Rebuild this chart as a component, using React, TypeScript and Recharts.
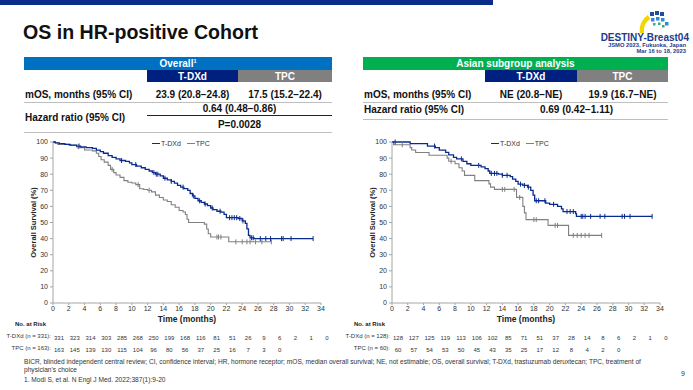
import { LineChart, Line, XAxis, YAxis } from 'recharts';

const months = [0, 2, 4, 6, 8, 10, 12, 14, 16, 18, 20, 22, 24, 26, 28, 30, 32, 34];
const survivalTicks = [0, 10, 20, 30, 40, 50, 60, 70, 80, 90, 100];

// Overall HR-positive cohort
const overallTdxdTime = [0, 0.3, 0.8, 1.5, 2.2, 3, 3.5, 4.2, 5, 5.5, 6, 6.4, 7, 7.5, 8, 8.5, 9.2, 9.7, 10, 10.6, 11.2, 11.7, 12.2, 12.6, 13, 13.6, 14, 14.5, 15, 15.4, 15.8, 16.2, 16.6, 17.1, 17.4, 17.7, 18, 18.4, 18.8, 19.2, 19.6, 20, 20.3, 20.8, 21.3, 21.7, 22, 23.5, 24, 24.4, 24.6, 24.8, 25, 25.5];
const overallTdxdOS = [100, 99.5, 99, 98.5, 98, 97.5, 97, 96.5, 96, 95, 94, 93, 91.5, 90.5, 89.5, 88.5, 88, 87, 86, 85, 84, 83, 82, 81, 80, 79, 77.5, 76.5, 75.5, 74.5, 73, 72, 71, 70, 68, 66.5, 65, 63.5, 62.5, 61.5, 60.5, 59, 58, 57, 56.5, 55, 53, 52.5, 51, 49.5, 46, 42, 40.5, 40];
const overallTdxdCensor = [3.3, 8.7, 10.5, 12.8, 13.1, 13.3, 14.2, 15, 16.5, 17.8, 18.6, 19.3, 20.2, 21.2, 22.4, 22.7, 23, 23.3, 23.7, 24.1, 25.2, 25.4, 26.3, 27, 27.6, 29, 29.2, 30.2, 33];
const overallTpcTime = [0, 0.2, 0.6, 2, 3, 3.5, 4, 5, 5.5, 5.8, 6.1, 6.5, 7, 7.3, 7.7, 8, 8.5, 9, 9.5, 10, 10.5, 11, 11.5, 12, 12.5, 13, 13.5, 14, 14.5, 15, 15.5, 16, 16.5, 16.8, 17, 17.2, 19.2, 19.5, 19.7, 20, 22.3];
const overallTpcOS = [100, 99.5, 98.5, 98, 97, 96.5, 95, 94.5, 93, 91, 89, 87.5, 85.5, 83, 81, 79.5, 78, 76, 75, 74.5, 73.5, 71, 70.5, 70, 69, 67, 65.5, 64, 63, 61, 59.5, 57.5, 56.5, 55, 52, 50, 49, 46, 43, 41, 38];
const overallTpcCensor = [3.2, 7.5, 10.8, 12.2, 20.8, 21, 21.3, 23.2, 24, 24.6, 25, 25.7, 26.5, 27.7];
const overallTdxdRisk = [331, 323, 314, 303, 285, 268, 250, 199, 168, 116, 81, 51, 26, 9, 6, 2, 1, 0];
const overallTpcRisk = [163, 145, 139, 130, 115, 104, 96, 80, 56, 37, 25, 16, 7, 3, 0];

// Asian subgroup
const asianTdxdTime = [0, 2.3, 4.5, 5.5, 6, 6.8, 7.2, 7.8, 8.2, 9, 9.5, 10, 11.3, 11.8, 12.2, 12.4, 13.5, 14, 15, 15.3, 15.7, 16, 16.6, 17.2, 17.6, 17.9, 18.1, 19.5, 20, 21, 21.5, 21.7, 23.3, 23.4];
const asianTdxdOS = [100, 99, 97.5, 96.5, 95, 93.5, 92, 90.5, 89.5, 88, 86.5, 85.5, 84.5, 83.5, 82, 80.5, 80, 79.3, 78.5, 77, 75.5, 73.8, 73, 72, 70, 67, 63.5, 62, 61.3, 60, 58.5, 56.8, 55.5, 53.8];
const asianTdxdCensor = [0.4, 5.4, 8.8, 11, 12.6, 13, 13.3, 14, 14.6, 16.3, 16.8, 17.3, 18.3, 18.6, 19.4, 20.5, 22.2, 22.6, 23, 24, 24.2, 24.5, 25.2, 26.4, 27, 29.2, 29.5, 30.2, 33];
const asianTpcTime = [0, 0.2, 2.3, 2.5, 3, 4.7, 7, 7.2, 8, 8.5, 8.9, 9.2, 10.5, 12.3, 12.5, 13, 15.8, 16.6, 16.8, 17, 19.8, 22.4];
const asianTpcOS = [100, 98.3, 96.5, 95, 93.5, 91.8, 90, 88, 86.5, 84, 82, 79.3, 76, 74, 72, 70.6, 65.6, 60, 56, 51.8, 48.2, 42];
const asianTpcCensor = [1.3, 7.5, 14, 14.3, 15.5, 16.2, 18, 18.3, 20.7, 21, 23, 23.5, 24, 24.5, 25, 26.6];
const asianTdxdRisk = [128, 127, 125, 119, 113, 106, 102, 85, 71, 51, 37, 28, 14, 8, 6, 2, 1, 0];
const asianTpcRisk = [60, 57, 54, 53, 50, 45, 43, 35, 25, 17, 12, 8, 4, 2, 0];

const NAVY = '#0A2B8E';
const GREY = '#808080';
const FONT = "'Liberation Sans', Arial, sans-serif";

type Pt = { t: number; s: number; c: boolean };

function buildCurve(time: number[], os: number[], censor: number[]): Pt[] {
  const pts: Pt[] = time.map((t, i) => ({ t, s: os[i], c: false }));
  censor.forEach((ct) => {
    let s = os[0];
    time.forEach((t, i) => {
      if (t <= ct) s = os[i];
    });
    pts.push({ t: ct, s, c: true });
  });
  return pts.sort((a, b) => a.t - b.t);
}

const censorDot = (color: string) => (p: any) =>
  p.payload && p.payload.c ? (
    <line key={'c' + p.index} x1={p.cx} x2={p.cx} y1={p.cy - 2.5} y2={p.cy + 2.5} stroke={color} strokeWidth={1} />
  ) : (
    <g key={'n' + p.index} />
  );

const riskTick = (risk: number[]) => (p: any) => {
  const i = months.indexOf(p.payload.value);
  const label = i >= 0 && i < risk.length ? String(risk[i]) : '';
  return (
    <text key={'r' + p.index} x={p.x + 6} y={p.y} dy="0.71em" textAnchor="middle" fontSize={6} fill="#333" fontFamily={FONT}>
      {label}
    </text>
  );
};

interface KMProps {
  left: number;
  tdxd: Pt[];
  tpc: Pt[];
  tdxdRisk: number[];
  tpcRisk: number[];
  tdxdLabel: string;
  tpcLabel: string;
}

function KMChart({ left, tdxd, tpc, tdxdRisk, tpcRisk, tdxdLabel, tpcLabel }: KMProps) {
  const axisTick = { fontSize: 7, fill: '#333', fontFamily: FONT };
  return (
    <>
      <div style={{ position: 'absolute', left, top: 135 }}>
        <LineChart width={345} height={225} margin={{ top: 7, right: 24, bottom: 3, left: 13 }}>
          <XAxis
            xAxisId={0}
            type="number"
            dataKey="t"
            domain={[0, 34]}
            ticks={months}
            interval={0}
            allowDataOverflow
            height={30}
            tickSize={2}
            tickMargin={1}
            stroke="#A6A6A6"
            tick={axisTick}
            label={{ value: 'Time (months)', position: 'insideTop', offset: 13, style: { fontSize: 8.5, fontWeight: 700, fill: '#222', fontFamily: FONT } }}
          />
          <XAxis xAxisId={1} type="number" dataKey="t" domain={[0, 34]} ticks={months} interval={0} allowDataOverflow height={12} axisLine={false} tickLine={false} tickSize={0} tickMargin={3} tick={riskTick(tdxdRisk)} />
          <XAxis xAxisId={2} type="number" dataKey="t" domain={[0, 34]} ticks={months} interval={0} allowDataOverflow height={12} axisLine={false} tickLine={false} tickSize={0} tickMargin={3} tick={riskTick(tpcRisk)} />
          <YAxis
            type="number"
            domain={[0, 100]}
            ticks={survivalTicks}
            interval={0}
            width={40}
            tickSize={3}
            tickMargin={2}
            stroke="#A6A6A6"
            tick={axisTick}
            label={{ value: 'Overall Survival (%)', angle: -90, position: 'insideLeft', offset: 20, style: { textAnchor: 'middle', fontSize: 7.5, fontWeight: 700, fill: '#222', fontFamily: FONT } }}
          />
          {/* transparent copies so the at-risk axes share the time domain */}
          <Line xAxisId={1} data={tdxd} dataKey="s" stroke="none" dot={false} activeDot={false} legendType="none" isAnimationActive={false} />
          <Line xAxisId={2} data={tpc} dataKey="s" stroke="none" dot={false} activeDot={false} legendType="none" isAnimationActive={false} />
          <Line xAxisId={0} data={tpc} dataKey="s" type="stepAfter" stroke={GREY} strokeWidth={1.1} dot={censorDot(GREY)} activeDot={false} isAnimationActive={false} />
          <Line xAxisId={0} data={tdxd} dataKey="s" type="stepAfter" stroke={NAVY} strokeWidth={1.3} dot={censorDot(NAVY)} activeDot={false} isAnimationActive={false} />
        </LineChart>
      </div>
      <div style={{ position: 'absolute', left: left + 152, top: 140, display: 'flex', alignItems: 'center', fontSize: 7, color: '#333' }}>
        <span style={{ display: 'inline-block', width: 8, height: 1.3, background: NAVY, marginRight: 1 }} />
        <span style={{ marginRight: 6 }}>T-DXd</span>
        <span style={{ display: 'inline-block', width: 8, height: 1.3, background: GREY, marginRight: 1 }} />
        <span>TPC</span>
      </div>
      <div style={{ position: 'absolute', left: left + 15, top: 321, fontSize: 6, fontWeight: 700, color: '#222' }}>No. at Risk</div>
      <div style={{ position: 'absolute', left: left, width: 51, top: 333, fontSize: 6, color: '#333', textAlign: 'right', whiteSpace: 'nowrap' }}>{tdxdLabel}</div>
      <div style={{ position: 'absolute', left: left, width: 51, top: 345, fontSize: 6, color: '#333', textAlign: 'right', whiteSpace: 'nowrap' }}>{tpcLabel}</div>
    </>
  );
}

const cell = (l: number, t: number, w: number, h: number, bg: string, text: any) => (
  <div style={{ position: 'absolute', left: l, top: t, width: w, height: h, background: bg, color: '#fff', fontWeight: 700, fontSize: 10, display: 'flex', alignItems: 'center', justifyContent: 'center' }}>{text}</div>
);

const txt = (l: number, cy: number, w: number, text: string, align: 'left' | 'center' = 'left') => (
  <div style={{ position: 'absolute', left: l, top: cy - 6, width: w, height: 12, lineHeight: '12px', fontSize: 10, fontWeight: 700, color: '#111', textAlign: align, whiteSpace: 'nowrap' }}>{text}</div>
);

const hline = (l: number, t: number, w: number, color: string) => (
  <div style={{ position: 'absolute', left: l, top: t, width: w, height: 1, background: color }} />
);

export default function App() {
  const overallTdxd = buildCurve(overallTdxdTime, overallTdxdOS, overallTdxdCensor);
  const overallTpc = buildCurve(overallTpcTime, overallTpcOS, overallTpcCensor);
  const asianTdxd = buildCurve(asianTdxdTime, asianTdxdOS, asianTdxdCensor);
  const asianTpc = buildCurve(asianTpcTime, asianTpcOS, asianTpcCensor);

  return (
    <div style={{ position: 'absolute', left: 0, top: 0, width: 693, height: 390, background: '#fff', fontFamily: FONT, overflow: 'hidden' }}>
      <div style={{ position: 'absolute', left: 0, top: 0, width: 493, height: 5, background: '#0B2D8A' }} />
      <div style={{ position: 'absolute', left: 23, top: 20, fontSize: 19.6, fontWeight: 700, color: '#111', lineHeight: '24px' }}>OS in HR-positive Cohort</div>

      <svg style={{ position: 'absolute', left: 638, top: 10 }} width={32} height={24} viewBox="0 0 32 24">
        <path d="M4 23 A16 16 0 0 1 11 7" stroke="#F2D600" strokeWidth={4.5} fill="none" />
        <rect x={12} y={2} width={4} height={4} fill="#1F4E9C" />
        <rect x={17} y={1} width={4} height={4} fill="#1F4E9C" />
        <rect x={22} y={2} width={4} height={4} fill="#1F4E9C" />
        <rect x={13} y={8} width={3.5} height={3.5} fill="#2E8BD8" />
        <rect x={18} y={7} width={3.5} height={3.5} fill="#2E8BD8" />
        <rect x={23} y={8} width={3.5} height={3.5} fill="#2E8BD8" />
        <rect x={27} y={12} width={3.5} height={3.5} fill="#2E8BD8" />
        <rect x={15} y={13} width={2.5} height={2.5} fill="#3BAA6E" />
        <rect x={20} y={12.5} width={2.5} height={2.5} fill="#3BAA6E" />
        <rect x={24} y={15} width={2.5} height={2.5} fill="#3BAA6E" />
      </svg>
      <div style={{ position: 'absolute', right: 4, top: 32, fontSize: 10, fontWeight: 700, color: '#1F3A8C', textAlign: 'right' }}>DESTINY-Breast04</div>
      <div style={{ position: 'absolute', right: 7, top: 42, fontSize: 5.8, fontWeight: 700, color: '#1F3A8C', textAlign: 'right', lineHeight: '6px' }}>
        JSMO 2023, Fukuoka, Japan
        <br />
        Mar 16 to 18, 2023
      </div>

      {/* Overall table */}
      {cell(24, 57, 308, 13, '#0070C0', <span>Overall<sup style={{ fontSize: 5.5 }}>1</sup></span>)}
      {cell(147, 70, 91, 12, '#002080', 'T-DXd')}
      {cell(238, 70, 94, 12, GREY, 'TPC')}
      {txt(25, 95, 120, 'mOS, months (95% CI)')}
      {txt(147, 95, 91, '23.9 (20.8−24.8)', 'center')}
      {txt(238, 95, 94, '17.5 (15.2−22.4)', 'center')}
      {hline(24, 102, 308, '#BFBFBF')}
      {txt(25, 118, 120, 'Hazard ratio (95% CI)')}
      {txt(147, 109, 185, '0.64 (0.48−0.86)', 'center')}
      {hline(147, 115, 185, '#222')}
      {txt(147, 125, 185, 'P=0.0028', 'center')}
      {hline(24, 132, 308, '#BFBFBF')}

      {/* Asian table */}
      {cell(363, 57, 305, 13, '#00B050', 'Asian subgroup analysis')}
      {cell(485, 70, 92, 12, '#002080', 'T-DXd')}
      {cell(577, 70, 91, 12, GREY, 'TPC')}
      {txt(364, 95, 120, 'mOS, months (95% CI)')}
      {txt(485, 95, 92, 'NE (20.8−NE)', 'center')}
      {txt(577, 95, 91, '19.9 (16.7−NE)', 'center')}
      {hline(363, 102, 305, '#BFBFBF')}
      {txt(364, 110, 120, 'Hazard ratio (95% CI)')}
      {txt(485, 110, 183, '0.69 (0.42−1.11)', 'center')}
      {hline(363, 119, 305, '#BFBFBF')}

      <KMChart left={0} tdxd={overallTdxd} tpc={overallTpc} tdxdRisk={overallTdxdRisk} tpcRisk={overallTpcRisk} tdxdLabel="T-DXd (n = 331):" tpcLabel="TPC (n = 163):" />
      <KMChart left={339} tdxd={asianTdxd} tpc={asianTpc} tdxdRisk={asianTdxdRisk} tpcRisk={asianTpcRisk} tdxdLabel="T-DXd (n = 128):" tpcLabel="TPC (n = 60):" />

      <div style={{ position: 'absolute', left: 24, top: 358, width: 640, fontSize: 6.6, color: '#333', lineHeight: '8px' }}>
        BICR, blinded independent central review; CI, confidence interval; HR, hormone receptor; mOS, median overall survival; NE, not estimable; OS, overall survival; T-DXd, trastuzumab deruxtecan; TPC, treatment of physician's choice
      </div>
      <div style={{ position: 'absolute', left: 24, top: 376, fontSize: 6.6, color: '#333' }}>1. Modi S, et al. N Engl J Med. 2022;387(1):9-20</div>
      <div style={{ position: 'absolute', left: 681, top: 370, fontSize: 7, color: '#333' }}>9</div>
    </div>
  );
}
